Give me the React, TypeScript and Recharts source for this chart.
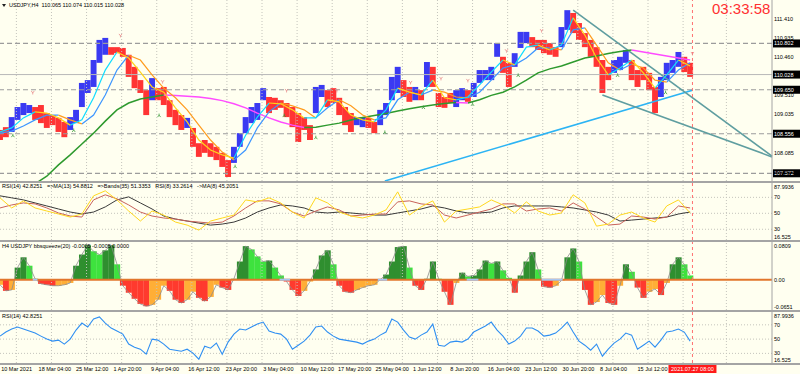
import {
  ComposedChart, Bar, Line, XAxis, YAxis, ReferenceLine, Scatter, Cell,
} from 'recharts'

const BG = '#fffff0'
const GRID = '#c4c4bc'
const SEP = '#a4a4a4'
const FONT = '"Liberation Sans", Arial, sans-serif'
const FS = 5.5

const W = 800
const AXIS_W = 28
const X_DOMAIN: [number, number] = [0, 660]
const NOW_BAR = 592
const STEP = 5       // bars between price / histogram / rsi samples
const IND_STEP = 10  // bars between moving-average / rsi-set samples

// ---- main price panel (H4 bars sampled every 5 bars)
const PRICE_HI = [
  108.65, 108.72, 108.97, 109.22, 109.32, 109.27, 109.22, 109.27, 109.07, 109.02,
  108.95, 108.85, 108.97, 109.15, 109.82, 109.89, 110.39, 110.89, 110.94, 110.71,
  110.71, 110.69, 110.52, 110.22, 109.89, 109.64, 109.94, 109.69, 109.72, 109.39,
  109.15, 109.02, 108.95, 108.70, 108.32, 108.40, 108.32, 108.23, 108.08, 107.90,
  108.23, 108.57, 108.97, 109.22, 109.32, 109.69, 109.47, 109.45, 109.39, 109.32,
  109.22, 109.07, 108.97, 108.77, 109.72, 109.77, 109.64, 109.69, 109.45, 109.22,
  109.07, 108.97, 108.97, 108.95, 108.85, 109.15, 109.32, 109.97, 110.22, 109.89,
  109.72, 109.72, 109.64, 110.34, 110.22, 109.57, 109.47, 109.57, 109.64, 109.69,
  109.64, 109.82, 110.14, 110.14, 110.22, 110.81, 110.47, 110.32, 110.56, 111.09,
  111.09, 110.96, 110.89, 110.89, 110.81, 110.71, 111.21, 111.63, 111.56, 111.31,
  111.06, 110.89, 110.71, 110.39, 110.22, 110.39, 110.47, 110.64, 110.39, 110.14,
  110.22, 110.07, 109.72, 109.97, 110.32, 110.39, 110.59, 110.47, 110.32,
]
const PRICE_LO = [
  108.40, 108.47, 108.60, 108.90, 109.02, 109.07, 108.90, 108.82, 108.70, 108.77,
  108.60, 108.47, 108.65, 108.82, 109.22, 109.57, 109.72, 110.32, 110.52, 110.52,
  110.56, 110.47, 109.97, 109.69, 109.57, 109.02, 109.39, 109.39, 109.27, 108.97,
  108.77, 108.65, 108.70, 108.23, 107.98, 108.08, 107.98, 107.90, 107.73, 107.48,
  107.83, 108.23, 108.57, 108.82, 108.90, 109.39, 109.07, 109.15, 109.20, 108.97,
  108.72, 108.35, 108.65, 108.40, 109.07, 109.47, 109.22, 109.32, 109.02, 108.77,
  108.60, 108.77, 108.72, 108.70, 108.57, 108.77, 109.02, 109.39, 109.57, 109.47,
  109.35, 109.39, 109.39, 109.72, 109.72, 109.22, 109.20, 109.32, 109.22, 109.39,
  109.35, 109.47, 109.82, 109.89, 109.89, 110.47, 110.07, 109.72, 110.22, 110.69,
  110.81, 110.71, 110.64, 110.56, 110.52, 110.47, 110.71, 111.14, 111.06, 110.89,
  110.71, 110.47, 110.22, 109.57, 109.89, 110.07, 110.14, 110.32, 109.89, 109.72,
  109.89, 109.64, 109.07, 109.47, 109.89, 110.07, 110.22, 110.09, 109.97,
]
// u = blue (rising) bar, d = red (falling) bar
const PRICE_DIR =
  'dduuuudddd' + 'dduuuuuuud' + 'dddddduddd' + 'dduddddddd' + 'uuuuuudddd' +
  'dddduudddd' + 'duudduuuud' + 'dududddduu' + 'duuuuudduu' + 'uddddduudd' +
  'ddddduuudd' + 'ddduuuudd'

// moving averages, every 10 bars
const FAST_MA = [
  108.60, 108.70, 108.95, 109.10, 109.07, 108.95, 108.77, 108.90, 109.45, 110.14,
  110.59, 110.44, 110.09, 109.72, 109.59, 109.20, 108.85, 108.40, 108.15, 108.03,
  107.95, 108.52, 108.97, 109.32, 109.30, 109.15, 108.95, 108.95, 109.40, 109.35,
  109.02, 108.90, 108.85, 109.15, 109.69, 109.59, 109.52, 109.89, 109.45, 109.40,
  109.47, 109.77, 110.09, 110.39, 110.27, 110.71, 110.76, 110.64, 110.76, 111.44,
  111.01, 110.44, 110.02, 110.19, 110.39, 110.07, 109.69, 110.02, 110.39, 110.24,
]
const SLOW_MA = [
  108.57, 108.62, 108.75, 108.90, 109.02, 109.02, 108.90, 108.80, 109.02, 109.52,
  110.14, 110.51, 110.39, 110.02, 109.69, 109.45, 109.15, 108.77, 108.40, 108.10,
  107.90, 108.15, 108.70, 109.10, 109.32, 109.25, 109.15, 108.95, 109.20, 109.40,
  109.25, 109.02, 108.90, 108.95, 109.40, 109.59, 109.52, 109.64, 109.59, 109.47,
  109.45, 109.59, 109.89, 110.19, 110.27, 110.44, 110.69, 110.69, 110.64, 111.14,
  111.19, 110.76, 110.32, 110.14, 110.29, 110.19, 109.89, 109.84, 110.14, 110.32,
]
const LONG_MA = [
  null, null, null, 107.31, 107.50, 107.78, 108.03, 108.30, 108.57, 108.87,
  109.15, 109.32, 109.42, 109.47, 109.52, 109.51, 109.49, 109.47, 109.43, 109.38,
  109.30, 109.20, 109.07, 108.95, 108.85, 108.77, 108.71, 108.72, 108.77, 108.82,
  108.90, 108.96, 109.01, 109.06, 109.12, 109.18, 109.23, 109.27, 109.31, 109.33,
  109.32, 109.40, 109.51, 109.59, 109.72, 109.89, 110.07, 110.17, 110.24, 110.34,
  110.44, 110.49, 110.55, 110.60, 110.64, 110.59, 110.54, 110.49, 110.44, 110.39,
]

const FRACTAL_HIGH_BARS = [28, 103, 139, 245, 288, 351, 377, 400, 433, 463, 498, 592]
const FRACTAL_HIGH_PRICES = [109.57, 110.99, 109.84, 109.62, 109.62, 109.82, 109.92, 109.87, 110.61, 111.11, 110.81, 110.54]
const FRACTAL_LOW_BARS = [11, 63, 136, 201, 243, 270, 329, 362, 404, 443, 528, 569]
const FRACTAL_LOW_PRICES = [108.52, 108.65, 109.02, 107.75, 109.02, 108.47, 108.60, 109.22, 109.30, 110.02, 110.02, 109.59]

const TRENDLINES = [
  { from: [329, 107.38], to: [592, 109.64], color: '#2cb4f4' },
  { from: [490, 111.63], to: [660, 108.0], color: '#5f9ea0' },
  { from: [515, 109.52], to: [660, 107.98], color: '#5f9ea0' },
]

const PRICE_DOMAIN: [number, number] = [107.38, 111.883]
const PRICE_TICKS = [111.41, 110.935, 110.46, 109.51, 109.035, 108.085, 107.61]
const PRICE_LEVELS = [110.802, 109.65, 108.556, 107.572]
const BID = 110.028

// ---- RSI set panel, every 10 bars
const RSI8 = [
  69.4, 56.7, 65.6, 56.7, 52.9, 49.1, 45.3, 49.1, 71.9, 78.2,
  66.8, 52.9, 40.3, 52.9, 47.8, 39.0, 35.2, 28.9, 40.3, 44.1,
  47.8, 66.8, 64.3, 69.4, 63.0, 51.6, 44.1, 69.4, 63.0, 51.6,
  46.6, 44.1, 47.8, 54.2, 76.9, 47.8, 58.0, 65.6, 39.0, 52.9,
  55.4, 58.0, 66.8, 60.5, 50.4, 64.3, 52.9, 47.8, 50.4, 73.2,
  63.0, 33.9, 36.5, 47.8, 51.6, 44.1, 39.0, 59.2, 66.8, 50.4,
]
const RSI_MA = [
  56.7, 60.5, 63.0, 61.8, 56.7, 50.4, 46.6, 45.3, 66.8, 73.2,
  68.1, 60.5, 51.6, 46.6, 44.1, 42.8, 40.3, 39.0, 37.7, 39.0,
  46.6, 56.7, 65.6, 65.6, 61.8, 51.6, 46.6, 52.9, 58.0, 54.2,
  46.6, 47.8, 49.1, 49.1, 64.3, 65.6, 61.8, 60.5, 47.8, 44.1,
  47.8, 51.6, 55.4, 61.8, 61.8, 52.9, 55.4, 56.7, 52.9, 63.0,
  55.4, 45.3, 35.2, 36.5, 46.6, 45.3, 42.8, 45.3, 59.2, 56.7,
]
const RSI_BANDS = [
  71.9, 69.4, 66.8, 63.0, 59.2, 55.4, 51.6, 49.1, 51.6, 58.0,
  66.8, 70.6, 63.0, 55.4, 46.6, 42.8, 40.3, 37.7, 35.2, 36.5,
  39.0, 44.1, 51.6, 56.7, 60.5, 59.2, 56.7, 51.6, 50.4, 51.6,
  50.4, 49.1, 47.8, 47.8, 50.4, 52.9, 55.4, 59.2, 56.7, 52.9,
  50.4, 50.4, 51.6, 56.7, 59.2, 59.2, 59.2, 59.2, 58.0, 56.7,
  54.2, 51.6, 47.8, 40.3, 41.5, 42.8, 44.1, 45.3, 49.1, 51.6,
]
const RSI_DOMAIN: [number, number] = [16.525, 87.9936]
const RSI_TICKS = [87.9936, 70, 50, 30, 16.525]
const RSI_LEVELS = [70, 50, 30]

// ---- bbsqueeze histogram, every 5 bars
const SQUEEZE = [
  -0.011, -0.024, -0.022, 0.026, 0.048, 0.030, 0.002, -0.009, -0.011, -0.013,
  -0.013, -0.011, -0.007, 0.030, 0.054, 0.074, 0.061, 0.054, 0.063, 0.074,
  0.033, -0.013, -0.028, -0.041, -0.052, -0.057, -0.054, -0.043, -0.013, -0.024,
  -0.043, -0.050, -0.043, -0.026, -0.039, -0.046, -0.037, -0.011, -0.017, -0.022,
  0.002, 0.039, 0.072, 0.065, 0.050, 0.039, 0.041, 0.026, 0.009, -0.004,
  -0.022, -0.035, -0.024, -0.004, 0.022, 0.052, 0.063, 0.033, -0.013, -0.026,
  -0.028, -0.022, -0.017, -0.013, -0.011, 0.000, 0.011, 0.039, 0.070, 0.072,
  0.026, -0.013, -0.022, 0.002, 0.039, 0.002, -0.026, -0.054, -0.007, 0.015,
  0.007, 0.009, 0.022, 0.041, 0.035, 0.039, 0.020, 0.004, -0.028, 0.009,
  0.039, 0.059, 0.022, -0.015, -0.017, -0.013, -0.002, 0.048, 0.067, 0.039,
  -0.022, -0.054, -0.048, -0.033, -0.050, -0.054, -0.013, 0.033, 0.017, -0.017,
  -0.039, -0.026, -0.020, -0.033, -0.007, 0.033, 0.048, 0.033, 0.009,
]
const SQUEEZE_OFF = [[28, 32], [239, 248], [323, 331], [399, 409], [463, 481]]
const SQUEEZE_DOMAIN: [number, number] = [-0.0651, 0.0809]
const SQUEEZE_TICKS = [0.0809, 0, -0.0651]

// ---- RSI(14), every 5 bars
const RSI14 = [
  54.2, 59.9, 64.1, 66.9, 64.1, 61.3, 58.5, 54.2, 50.0, 47.2,
  48.6, 43.0, 50.0, 62.7, 72.5, 66.9, 78.2, 81.0, 72.5, 65.5,
  61.3, 57.0, 43.0, 38.7, 35.9, 28.9, 50.0, 48.6, 43.0, 35.9,
  34.5, 33.1, 35.9, 30.3, 21.8, 40.1, 37.3, 44.4, 28.9, 45.8,
  57.0, 64.1, 62.7, 66.9, 71.1, 73.9, 61.3, 58.5, 57.0, 50.0,
  35.9, 41.5, 47.2, 55.6, 66.9, 68.3, 59.9, 54.2, 50.0, 48.6,
  47.2, 45.8, 43.0, 47.2, 50.0, 55.6, 59.9, 78.2, 73.9, 62.7,
  52.8, 50.0, 55.6, 59.9, 71.1, 41.5, 40.1, 45.8, 47.2, 45.8,
  50.0, 59.9, 64.1, 68.3, 73.9, 62.7, 54.2, 43.0, 47.2, 54.2,
  65.5, 65.5, 61.3, 54.2, 55.6, 58.5, 65.5, 73.9, 59.9, 47.2,
  41.5, 34.5, 43.0, 26.1, 35.9, 44.4, 50.0, 58.5, 55.6, 35.9,
  41.5, 47.2, 38.7, 48.6, 59.9, 61.3, 64.1, 59.9, 47.2,
]

// ---- time axis
const GRID_BARS = [14, 44, 74, 104, 134, 164, 194, 224, 254, 284, 314, 344, 374, 404, 434, 464, 494, 524, 554, 584, 621]
const LABEL_BARS = [1, 33, 65, 97, 129, 161, 193, 225, 257, 289, 321, 353, 385, 417, 449, 481, 513, 545]
const LABEL_TEXT = [
  '10 Mar 2021', '18 Mar 04:00', '25 Mar 12:00', '1 Apr 20:00', '9 Apr 04:00', '16 Apr 12:00',
  '23 Apr 20:00', '3 May 04:00', '10 May 12:00', '17 May 20:00', '25 May 04:00', '1 Jun 12:00',
  '8 Jun 20:00', '16 Jun 04:00', '23 Jun 12:00', '30 Jun 20:00', '8 Jul 04:00', '15 Jul 12:00',
]
const NOW_LABEL = '2021.07.27 08:00'

// ---- derived rows
const priceRows = PRICE_HI.map((hi, i) => ({
  bar: i * STEP, range: [PRICE_LO[i], hi], up: PRICE_DIR[i] === 'u',
}))

type Pt = { bar: number; v: number | null }

// Split a series into rising / falling runs so each can take its own colour.
function slopeRuns(values: (number | null)[], step: number, wantUp: boolean): Pt[][] {
  const runs: Pt[][] = []
  let cur: Pt[] | null = null
  for (let i = 0; i < values.length - 1; i++) {
    const a = values[i]
    const b = values[i + 1]
    const ok = a != null && b != null && (b >= a) === wantUp
    if (!ok) { cur = null; continue }
    if (!cur) { cur = [{ bar: i * step, v: a }]; runs.push(cur) }
    cur.push({ bar: (i + 1) * step, v: b })
  }
  return runs
}

const highs = FRACTAL_HIGH_BARS.map((b, i) => ({ bar: b, price: FRACTAL_HIGH_PRICES[i] }))
const lows = FRACTAL_LOW_BARS.map((b, i) => ({ bar: b, price: FRACTAL_LOW_PRICES[i] }))

const rsiSetRows = RSI8.map((v, i) => ({ bar: i * IND_STEP, rsi8: v, ma: RSI_MA[i], bands: RSI_BANDS[i] }))

const squeezeRows = SQUEEZE.map((v, i) => {
  const prev = i > 0 ? SQUEEZE[i - 1] : v
  const color = v >= 0
    ? (v >= prev ? '#2f8f2f' : '#3ee23e')
    : (v < prev ? '#ff3a2e' : '#ffae36')
  return { bar: i * STEP, v, color }
})

const rsiRows = RSI14.map((v, i) => ({ bar: i * STEP, v }))

// ---- small renderers
function FixedBar(w: number) {
  return (props: any) => {
    const { x, y, width, height, fill } = props
    const top = Math.min(y, y + height)
    const h = Math.max(Math.abs(height), 0.5)
    return <rect x={x + width / 2 - w / 2} y={top} width={w} height={h} fill={fill} />
  }
}

function PriceTick(props: any) {
  const { x, y, payload } = props
  const v = payload.value as number
  return <text x={x} y={y + 2} fontSize={FS} fill="#000" fontFamily={FONT}>{v.toFixed(3)}</text>
}

function PriceBox(props: any, value: number) {
  const vb = props.viewBox
  const x = vb.x + vb.width + 1
  const y = vb.y
  return (
    <g>
      <rect x={x} y={y - 4} width={27} height={8} fill="#000" />
      <text x={x + 1} y={y + 2} fontSize={FS} fill="#fff" fontFamily={FONT}>{value.toFixed(3)}</text>
    </g>
  )
}

function indTick(min: number, max: number, fmt: (v: number) => string) {
  return (props: any) => {
    const { x, y, payload } = props
    const v = payload.value as number
    const dy = v === max ? 5.5 : v === min ? -1 : 2
    return <text x={x} y={y + dy} fontSize={FS} fill="#000" fontFamily={FONT}>{fmt(v)}</text>
  }
}

function TimeTick(props: any) {
  const { x, y, payload } = props
  const idx = LABEL_BARS.indexOf(payload.value)
  return <text x={x} y={y + 6} fontSize={FS} fill="#000" fontFamily={FONT}>{LABEL_TEXT[idx]}</text>
}

function NowLabel(props: any) {
  const vb = props.viewBox
  const cx = vb.x
  const top = vb.y + vb.height + 1
  return (
    <g>
      <rect x={cx - 24} y={top} width={48} height={9} fill="#ff1a1a" />
      <text x={cx} y={top + 6.5} fontSize={FS} fill="#fff" textAnchor="middle" fontFamily={FONT}>{NOW_LABEL}</text>
    </g>
  )
}

function HighMark(props: any) {
  const { cx, cy } = props
  return <path d={`M${cx - 1.5},${cy - 2} L${cx},${cy} L${cx + 1.5},${cy - 2} M${cx},${cy} L${cx},${cy + 1.5}`} stroke="#e88a8a" strokeWidth={0.8} fill="none" />
}

function LowMark(props: any) {
  const { cx, cy } = props
  return <path d={`M${cx - 1.5},${cy + 2} L${cx},${cy} L${cx + 1.5},${cy + 2} M${cx},${cy} L${cx},${cy - 1.5}`} stroke="#3a9a3a" strokeWidth={0.8} fill="none" />
}

const gridLines = (id: string) => GRID_BARS.map(b => (
  <ReferenceLine key={`${id}g${b}`} x={b} stroke={GRID} strokeDasharray="1 2" />
))

const nowLine = (id: string, label?: boolean) => (
  <ReferenceLine key={`${id}now`} x={NOW_BAR} stroke="#ff7070" strokeDasharray="3 3"
    label={label ? (p: any) => <NowLabel {...p} /> : undefined} />
)

const runLines = (id: string, runs: Pt[][], color: string, width: number) => runs.map((run, i) => (
  <Line key={`${id}${i}`} data={run} dataKey="v" stroke={color} strokeWidth={width}
    dot={false} activeDot={false} isAnimationActive={false} />
))

const Sep = ({ top }: { top: number }) => (
  <div style={{ position: 'absolute', left: 0, top, width: W, height: 2, background: SEP }} />
)

const Caption = ({ top, left, text }: { top: number; left: number; text: string }) => (
  <div style={{
    position: 'absolute', top, left, fontSize: FS, lineHeight: '7px', whiteSpace: 'pre',
    color: '#000', fontFamily: FONT,
  }}>{text}</div>
)

const margin = { top: 0, right: 0, bottom: 0, left: 0 }

export default function App() {
  return (
    <div style={{ position: 'absolute', left: 0, top: 0, width: W, height: 374, background: BG, overflow: 'hidden' }}>
      {/* price panel */}
      <div style={{ position: 'absolute', left: 0, top: 0 }}>
        <ComposedChart width={W} height={181} data={priceRows} margin={margin}>
          <XAxis dataKey="bar" type="number" domain={X_DOMAIN} hide allowDataOverflow />
          <YAxis orientation="right" width={AXIS_W} type="number" domain={PRICE_DOMAIN} allowDataOverflow
            ticks={PRICE_TICKS} interval={0} tickLine={false} tickSize={0} tickMargin={2}
            axisLine={{ stroke: SEP }} tick={(p: any) => <PriceTick {...p} />} />
          {gridLines('p')}
          {PRICE_LEVELS.map(v => (
            <ReferenceLine key={`lv${v}`} y={v} stroke="#9c9c9c" strokeDasharray="5 3" strokeWidth={1.2}
              label={(p: any) => PriceBox(p, v)} />
          ))}
          <ReferenceLine y={BID} stroke="#b8b8b8" label={(p: any) => PriceBox(p, BID)} />
          {TRENDLINES.map((t, i) => (
            <ReferenceLine key={`tl${i}`} ifOverflow="visible" stroke={t.color} strokeWidth={1.6}
              segment={[{ x: t.from[0], y: t.from[1] }, { x: t.to[0], y: t.to[1] }]} />
          ))}
          <Bar dataKey="range" isAnimationActive={false} shape={FixedBar(5.9)}>
            {priceRows.map((r, i) => <Cell key={i} fill={r.up ? '#3a3af2' : '#ff3434'} />)}
          </Bar>
          {runLines('lu', slopeRuns(LONG_MA, IND_STEP, true), '#2e9a2e', 1.5)}
          {runLines('ld', slopeRuns(LONG_MA, IND_STEP, false), '#ff4cff', 1.5)}
          {runLines('su', slopeRuns(SLOW_MA, IND_STEP, true), '#3d96ff', 1.2)}
          {runLines('sd', slopeRuns(SLOW_MA, IND_STEP, false), '#ff9c1e', 1.2)}
          {runLines('fu', slopeRuns(FAST_MA, IND_STEP, true), '#10dcff', 1.2)}
          {runLines('fd', slopeRuns(FAST_MA, IND_STEP, false), '#ffd21a', 1.2)}
          <Scatter data={highs} dataKey="price" shape={(p: any) => <HighMark {...p} />} isAnimationActive={false} />
          <Scatter data={lows} dataKey="price" shape={(p: any) => <LowMark {...p} />} isAnimationActive={false} />
          {nowLine('p')}
        </ComposedChart>
      </div>
      <Sep top={181} />

      {/* RSI set panel */}
      <div style={{ position: 'absolute', left: 0, top: 183 }}>
        <ComposedChart width={W} height={57} data={rsiSetRows} margin={margin}>
          <XAxis dataKey="bar" type="number" domain={X_DOMAIN} hide allowDataOverflow />
          <YAxis orientation="right" width={AXIS_W} type="number" domain={RSI_DOMAIN} allowDataOverflow
            ticks={RSI_TICKS} interval={0} tickLine={false} tickSize={0} tickMargin={2}
            axisLine={{ stroke: SEP }} tick={indTick(RSI_DOMAIN[0], RSI_DOMAIN[1], v => String(v))} />
          {gridLines('r')}
          {RSI_LEVELS.map(v => <ReferenceLine key={`rl${v}`} y={v} stroke={GRID} strokeDasharray="1 2" />)}
          <Line dataKey="bands" stroke="#3a3a3a" strokeWidth={1} dot={false} activeDot={false} isAnimationActive={false} />
          <Line dataKey="ma" stroke="#c8625a" strokeWidth={1} dot={false} activeDot={false} isAnimationActive={false} />
          <Line dataKey="rsi8" stroke="#ffd81e" strokeWidth={1} dot={false} activeDot={false} isAnimationActive={false} />
          {nowLine('r')}
        </ComposedChart>
      </div>
      <Sep top={240} />

      {/* bbsqueeze panel */}
      <div style={{ position: 'absolute', left: 0, top: 242 }}>
        <ComposedChart width={W} height={68} data={squeezeRows} margin={margin}>
          <XAxis dataKey="bar" type="number" domain={X_DOMAIN} hide allowDataOverflow />
          <YAxis orientation="right" width={AXIS_W} type="number" domain={SQUEEZE_DOMAIN} allowDataOverflow
            ticks={SQUEEZE_TICKS} interval={0} tickLine={false} tickSize={0} tickMargin={2}
            axisLine={{ stroke: SEP }}
            tick={indTick(SQUEEZE_DOMAIN[0], SQUEEZE_DOMAIN[1], v => (v === 0 ? '0.00' : String(v)))} />
          {gridLines('s')}
          <Bar dataKey="v" isAnimationActive={false} shape={FixedBar(6.1)}>
            {squeezeRows.map((r, i) => <Cell key={i} fill={r.color} />)}
          </Bar>
          <Line dataKey="v" stroke="#8c8c8c" strokeWidth={0.8} dot={false} activeDot={false} isAnimationActive={false} />
          <ReferenceLine y={0} stroke="#e2762c" strokeWidth={2} />
          {SQUEEZE_OFF.map(([a, b]) => (
            <ReferenceLine key={`so${a}`} stroke="#aac6f0" strokeWidth={2}
              segment={[{ x: a, y: 0 }, { x: b, y: 0 }]} />
          ))}
          {nowLine('s')}
        </ComposedChart>
      </div>
      <Sep top={310} />

      {/* RSI(14) panel with time axis */}
      <div style={{ position: 'absolute', left: 0, top: 312 }}>
        <ComposedChart width={W} height={62} data={rsiRows} margin={margin}>
          <XAxis dataKey="bar" type="number" domain={X_DOMAIN} allowDataOverflow height={11}
            ticks={LABEL_BARS} interval={0} axisLine={false} tickLine={false} tickSize={0}
            tick={(p: any) => <TimeTick {...p} />} />
          <YAxis orientation="right" width={AXIS_W} type="number" domain={RSI_DOMAIN} allowDataOverflow
            ticks={RSI_TICKS} interval={0} tickLine={false} tickSize={0} tickMargin={2}
            axisLine={{ stroke: SEP }} tick={indTick(RSI_DOMAIN[0], RSI_DOMAIN[1], v => String(v))} />
          {gridLines('q')}
          {RSI_LEVELS.map(v => <ReferenceLine key={`ql${v}`} y={v} stroke={GRID} strokeDasharray="1 2" />)}
          <Line dataKey="v" stroke="#2f8ff2" strokeWidth={1.1} dot={false} activeDot={false} isAnimationActive={false} />
          {nowLine('q', true)}
        </ComposedChart>
      </div>
      <Sep top={363} />

      {/* captions */}
      <div style={{
        position: 'absolute', left: 2, top: 4, width: 0, height: 0,
        borderLeft: '2.5px solid transparent', borderRight: '2.5px solid transparent', borderTop: '3px solid #222',
      }} />
      <Caption top={2} left={9} text="USDJPY,H4  110.065 110.074 110.015 110.028" />
      <Caption top={183} left={2} text="RSI(14) 42.8251   =>MA(13) 54.8812   =>Bands(35) 51.3353   RSI(8) 33.2614   ->MA(8) 45.2051" />
      <Caption top={243} left={2} text="H4 USDJPY bbsqueeze(20) -0.0005 -0.0005 0.0000" />
      <Caption top={313} left={2} text="RSI(14) 42.8251" />
      <div style={{
        position: 'absolute', left: 712, top: 1, fontSize: 15, lineHeight: '16px',
        color: '#ff3030', fontFamily: FONT,
      }}>03:33:58</div>
    </div>
  )
}
